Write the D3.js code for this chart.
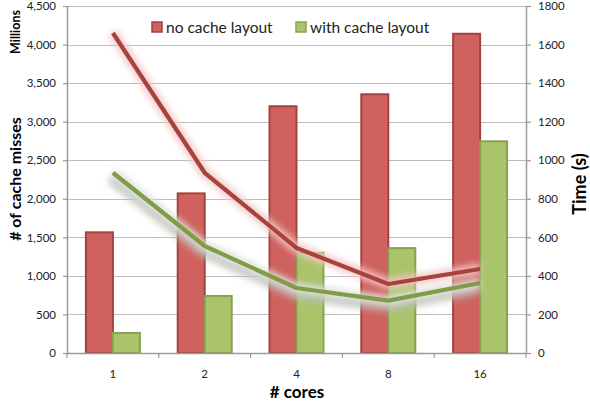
<!DOCTYPE html>
<html>
<head>
<meta charset="utf-8">
<script src="https://cdn.jsdelivr.net/npm/d3@7/dist/d3.min.js"></script>
<style>
  html, body { margin: 0; padding: 0; background: #fff; }
  svg { display: block; font-family: Lato, "Open Sans", sans-serif; }
</style>
</head>
<body>
<svg id="chart" width="590" height="407"></svg>
<script>
// Cores used per run
const cores = ["1", "2", "4", "8", "16"];
// Cache misses (millions), bars on the left axis
const missesNoCache = [1565, 2070, 3200, 3355, 4140];
const missesWithCache = [260, 740, 1300, 1360, 2745];
// Run time in seconds, lines on the right axis
const timeNoCache = [1660, 935, 545, 358, 436];
const timeWithCache = [935, 555, 337, 272, 363];
// Axis ticks
const leftTicks = [0, 500, 1000, 1500, 2000, 2500, 3000, 3500, 4000, 4500];
const rightTicks = [0, 200, 400, 600, 800, 1000, 1200, 1400, 1600, 1800];
const seriesNames = ["no cache layout", "with cache layout"];

const colors = {
  redFill: "#cf625e", redEdge: "#a5423e", redLine: "#a8423d",
  greenFill: "#abc46c", greenEdge: "#88a24f", greenLine: "#7f9c47",
  grid: "#bdbdbd", axis: "#9a9a9a", text: "#222"
};

const svg = d3.select("#chart");
const m = { left: 67, right: 64, top: 6, bottom: 54 };
const W = 590, H = 407;
const x0 = m.left, x1 = W - m.right, y0 = H - m.bottom, y1 = m.top;

const x = d3.scaleBand().domain(cores).range([x0, x1]).paddingInner(0).paddingOuter(0);
const yL = d3.scaleLinear().domain([0, 4500]).range([y0, y1]);
const yR = d3.scaleLinear().domain([0, 1800]).range([y0, y1]);

const defs = svg.append("defs");
const blur = defs.append("filter").attr("id", "glow")
  .attr("x", "-20%").attr("y", "-20%").attr("width", "140%").attr("height", "140%");
blur.append("feGaussianBlur").attr("stdDeviation", 3);
const blurG = defs.append("filter").attr("id", "shadow")
  .attr("x", "-20%").attr("y", "-20%").attr("width", "140%").attr("height", "140%");
blurG.append("feGaussianBlur").attr("stdDeviation", 3.5);

// Horizontal gridlines
svg.append("g").selectAll("line").data(leftTicks.slice(1)).join("line")
  .attr("x1", x0).attr("x2", x1)
  .attr("y1", d => Math.round(yL(d)) + 0.5).attr("y2", d => Math.round(yL(d)) + 0.5)
  .attr("stroke", colors.grid).attr("stroke-width", 1.2);

// Bars
const barW = 27;
const bars = svg.append("g");
cores.forEach((c, i) => {
  const cx = x(c) + x.bandwidth() / 2;
  bars.append("rect")
    .attr("x", cx - barW).attr("y", yL(missesNoCache[i]))
    .attr("width", barW).attr("height", y0 - yL(missesNoCache[i]))
    .attr("fill", colors.redFill).attr("stroke", colors.redEdge).attr("stroke-width", 2);
  bars.append("rect")
    .attr("x", cx).attr("y", yL(missesWithCache[i]))
    .attr("width", barW).attr("height", y0 - yL(missesWithCache[i]))
    .attr("fill", colors.greenFill).attr("stroke", colors.greenEdge).attr("stroke-width", 2);
});

// Axes
const axL = svg.append("g").attr("transform", `translate(${x0},0)`)
  .call(d3.axisLeft(yL).tickValues(leftTicks).tickSize(4).tickPadding(7).tickFormat(d3.format(",")));
const axR = svg.append("g").attr("transform", `translate(${x1},0)`)
  .call(d3.axisRight(yR).tickValues(rightTicks).tickSize(5).tickPadding(7).tickFormat(d3.format("d")));
const axB = svg.append("g").attr("transform", `translate(0,${y0})`)
  .call(d3.axisBottom(x).tickSize(0).tickPadding(17));
// category separators on the x-axis
svg.append("g").selectAll("line").data(d3.range(cores.length + 1)).join("line")
  .attr("x1", i => x0 + i * x.bandwidth()).attr("x2", i => x0 + i * x.bandwidth())
  .attr("y1", y0).attr("y2", y0 + 5).attr("stroke", colors.axis).attr("stroke-width", 1.2);

[axL, axR, axB].forEach(a => {
  a.selectAll(".domain").attr("stroke", colors.axis).attr("stroke-width", 1.5);
  a.selectAll(".tick line").attr("stroke", colors.axis).attr("stroke-width", 1.2);
  a.selectAll("text").attr("fill", colors.text).style("font-size", "11.5px")
    .style("font-family", "Lato, 'Open Sans', sans-serif");
});
axL.select(".domain").attr("d", `M0.5,${y0}V${y1}`);
axR.select(".domain").attr("d", `M0.5,${y0}V${y1}`);
axB.select(".domain").attr("d", `M${x0},0.5H${x1}`);

// Time lines with soft halos
const line = d3.line()
  .x((d, i) => x(cores[i]) + x.bandwidth() / 2)
  .y(d => yR(d));

const lines = svg.append("g");
lines.append("path").datum(timeNoCache).attr("d", line)
  .attr("fill", "none").attr("stroke", "#f3c8c6").attr("stroke-width", 11)
  .attr("stroke-linejoin", "round").attr("filter", "url(#glow)").attr("opacity", 0.9);
lines.append("path").datum(timeWithCache).attr("d", line)
  .attr("transform", "translate(-1,4)")
  .attr("fill", "none").attr("stroke", "#b9bdb4").attr("stroke-width", 14)
  .attr("stroke-linejoin", "round").attr("filter", "url(#shadow)").attr("opacity", 0.85);
lines.append("path").datum(timeWithCache).attr("d", line)
  .attr("fill", "none").attr("stroke", "#f2f2f2").attr("stroke-width", 9)
  .attr("stroke-linejoin", "round").attr("filter", "url(#glow)").attr("opacity", 0.7);
lines.append("path").datum(timeNoCache).attr("d", line)
  .attr("fill", "none").attr("stroke", colors.redLine).attr("stroke-width", 4.2)
  .attr("stroke-linejoin", "round");
lines.append("path").datum(timeWithCache).attr("d", line)
  .attr("fill", "none").attr("stroke", colors.greenLine).attr("stroke-width", 4.2)
  .attr("stroke-linejoin", "round");

// Legend
const legend = svg.append("g").style("font-family", "Lato, 'Open Sans', sans-serif");
const legendItems = [
  { name: seriesNames[0], fill: colors.redFill, edge: colors.redEdge, x: 152 },
  { name: seriesNames[1], fill: colors.greenFill, edge: colors.greenEdge, x: 296 }
];
legendItems.forEach(it => {
  legend.append("rect").attr("x", it.x).attr("y", 22).attr("width", 10).attr("height", 10)
    .attr("fill", it.fill).attr("stroke", it.edge).attr("stroke-width", 1.5);
  legend.append("text").attr("x", it.x + 14).attr("y", 33)
    .style("font-size", "15.5px").attr("fill", colors.text).text(it.name);
});

// Axis titles
const title = (t, tx, ty, rot, size) => svg.append("text")
  .attr("transform", `translate(${tx},${ty}) rotate(${rot})`)
  .attr("text-anchor", "middle").attr("fill", "#000")
  .style("font-weight", "bold").style("font-size", size)
  .style("font-family", "Lato, 'Open Sans', sans-serif").text(t);
title("Millions", 20, 32, -90, "12.5px");
title("# of cache misses", 21, 179, -90, "16px");
title("Time (s)", 586, 184, -90, "18px");
title("# cores", 297, 398, 0, "17px");
</script>
</body>
</html>
